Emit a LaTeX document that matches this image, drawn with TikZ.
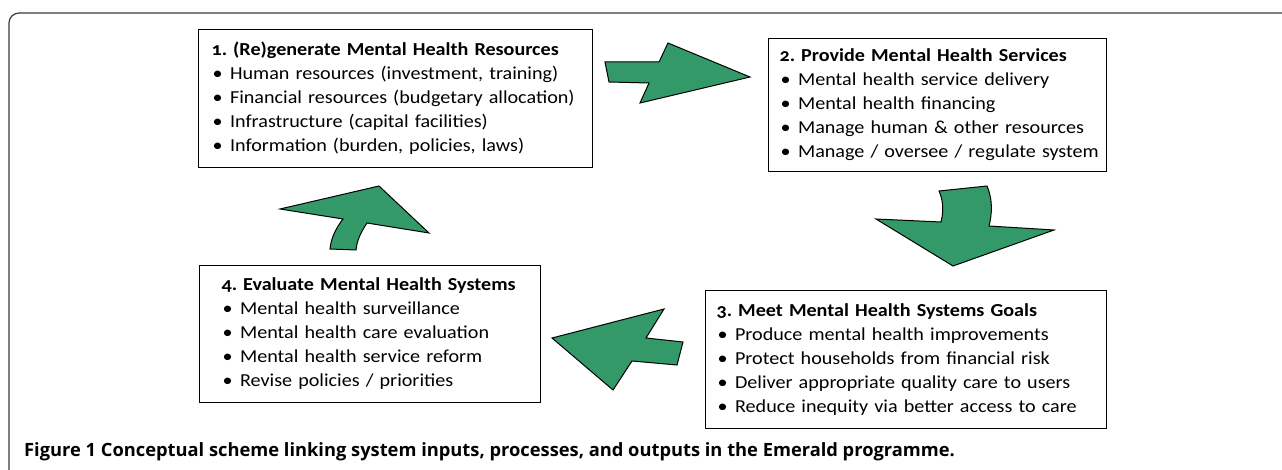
\documentclass[tikz,border=0pt]{standalone}
\usepackage{fontspec}
\setmainfont{Carlito}[Numbers=OldStyle, FakeStretch=1.1]
\newfontfamily\capfont{Open Sans}
\definecolor{arrowgreen}{RGB}{52,153,104}
\definecolor{framegray}{RGB}{60,60,60}
\newcommand{\itm}[1]{\\\mbox{\hspace*{1pt}\textbullet\hspace{7.5pt}#1}}
\newcommand{\ttl}[1]{\mbox{\bfseries\fontsize{18.3}{24}\selectfont #1}}
\frenchspacing
\begin{document}
\begin{tikzpicture}[x=1pt,y=-1pt,
  box/.style={draw, line width=1.1pt, align=left, anchor=north west, inner ysep=0pt,
    font=\fontsize{18.3}{24}\selectfont\frenchspacing},
  bigarrow/.style={fill=arrowgreen, draw=black, line width=1pt, line join=miter},
  caption/.style={anchor=west, inner sep=0pt, font=\capfont\bfseries\fontsize{18.3}{22}\selectfont\frenchspacing}]
\useasboundingbox (0,0) rectangle (1282,470);
% outer frame
\draw[framegray, line width=1.2pt, rounded corners=10pt] (9,470) -- (9,13) -- (1290,13);
% boxes
\node[box, text width=368pt, inner xsep=13pt, minimum height=138pt] (b1) at (198,29)
  {\ttl{1. (Re)generate Mental Health Resources}
   \itm{Human resources (investment, training)}
   \itm{Financial resources (budgetary allocation)}
   \itm{Infrastructure (capital facilities)}
   \itm{Information (burden, policies, laws)}};
\node[box, text width=316pt, inner xsep=11pt, minimum height=133pt] (b2) at (768,38)
  {\ttl{2. Provide Mental Health Services}
   \itm{Mental health service delivery}
   \itm{Mental health financing}
   \itm{Manage human \& other resources}
   \itm{Manage / oversee / regulate system}};
\node[box, text width=379pt, inner xsep=11pt, minimum height=138pt] (b3) at (705,290)
  {\ttl{3. Meet Mental Health Systems Goals}
   \itm{Produce mental health improvements}
   \itm{Protect households from financial risk}
   \itm{Deliver appropriate quality care to users}
   \itm{Reduce inequity via better access to care}};
\node[box, text width=297pt, inner xsep=22pt, minimum height=137pt] (b4) at (199,265)
  {\ttl{4. Evaluate Mental Health Systems}
   \itm{Mental health surveillance}
   \itm{Mental health care evaluation}
   \itm{Mental health service reform}
   \itm{Revise policies / priorities}};
% arrows
\filldraw[bigarrow] (605,62) -- (659,62) -- (668,43) -- (750,77) -- (640,103) -- (649,83) -- (609,82) -- cycle;
\filldraw[bigarrow] (939,191) -- (987,186) .. controls (993,200) and (992,214) .. (989,226)
  -- (1054,230) -- (953,266) -- (876,219) -- (941,222) .. controls (944,210) and (943,200) .. cycle;
\filldraw[bigarrow] (664,309) -- (646,338) -- (683,342) -- (677,365) -- (632,361) -- (613,390) -- (552,338) -- cycle;
\filldraw[bigarrow] (280,209) -- (379,186) -- (429,233) -- (367,223) .. controls (361,232) and (357,240) .. (356,250)
  -- (330,249) .. controls (331,238) and (336,228) .. (343,219) -- cycle;
% caption
\node[caption] (cap) at (24,452) {Figure 1 Conceptual scheme linking system inputs, processes, and outputs in the Emerald programme.};
\end{tikzpicture}
\end{document}
